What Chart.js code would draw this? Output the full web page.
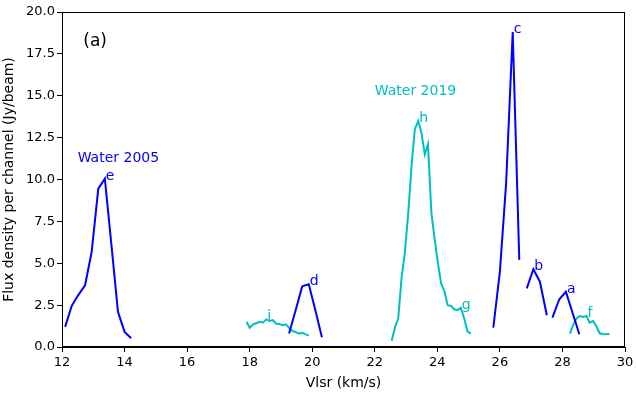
<!DOCTYPE html>
<html>
<head>
<meta charset="utf-8">
<script src="https://cdn.jsdelivr.net/npm/chart.js@4/dist/chart.umd.min.js"></script>
<style>
  html, body { margin: 0; padding: 0; background: #fff; }
  #wrap { width: 638px; height: 398px; }
</style>
</head>
<body>
<div id="wrap"><canvas id="fluxChart" width="638" height="398"></canvas></div>
<script>
// Water 2005 (blue) components
const eVel  = [12.10, 12.31, 12.52, 12.74, 12.95, 13.16, 13.37, 13.58, 13.79, 14.00, 14.21];
const eFlux = [1.2, 2.45, 3.1, 3.7, 5.7, 9.45, 10.05, 6.1, 2.1, 0.9, 0.52];
const dVel  = [19.26, 19.47, 19.68, 19.89, 20.10, 20.31];
const dFlux = [0.8, 2.2, 3.62, 3.75, 2.2, 0.58];
const cVel  = [25.79, 26.00, 26.20, 26.41, 26.62];
const cFlux = [1.15, 4.5, 9.8, 18.8, 5.2];
const bVel  = [26.86, 27.07, 27.28, 27.50];
const bFlux = [3.5, 4.64, 3.9, 1.9];
const aVel  = [27.68, 27.90, 28.11, 28.33, 28.54];
const aFlux = [1.75, 2.85, 3.3, 2.0, 0.76];

// Water 2019 (cyan) components
const iVel  = [17.90, 18.00, 18.11, 18.21, 18.32, 18.42, 18.53, 18.63, 18.74, 18.84,
               18.95, 19.05, 19.16, 19.26, 19.37, 19.47, 19.58, 19.68, 19.79, 19.89];
const iFlux = [1.51, 1.15, 1.35, 1.42, 1.5, 1.45, 1.65, 1.55, 1.6, 1.4,
               1.38, 1.3, 1.35, 1.15, 0.95, 0.9, 0.8, 0.85, 0.75, 0.68];
const hVel  = [22.54, 22.65, 22.75, 22.86, 22.96, 23.07, 23.18, 23.28, 23.39, 23.49,
               23.60, 23.70, 23.81, 23.91, 24.02, 24.12, 24.23, 24.33, 24.44, 24.54,
               24.65, 24.75, 24.86, 24.96, 25.07];
const hFlux = [0.38, 1.2, 1.7, 4.2, 5.6, 8.0, 10.9, 13.0, 13.5, 12.8,
               11.5, 12.1, 8.0, 6.5, 5.0, 3.8, 3.3, 2.5, 2.45, 2.25,
               2.2, 2.35, 1.7, 0.95, 0.8];
const fVel  = [28.24, 28.35, 28.45, 28.56, 28.66, 28.77, 28.87, 28.98, 29.08, 29.19,
               29.29, 29.40, 29.50];
const fFlux = [0.8, 1.35, 1.7, 1.85, 1.8, 1.85, 1.45, 1.55, 1.25, 0.82,
               0.78, 0.76, 0.78];

// peak letters, placed at the peak channel of each component
const peakNames = ['e', 'd', 'c', 'b', 'a', 'i', 'h', 'g', 'f'];
const peakVel   = [13.37, 19.89, 26.41, 27.07, 28.11, 18.53, 23.39, 24.75, 28.77];
const peakFlux  = [10.05, 3.75, 18.8, 4.64, 3.3, 1.65, 13.5, 2.35, 1.85];

const xTicks = [12, 14, 16, 18, 20, 22, 24, 26, 28, 30];
const yTicks = [0, 2.5, 5, 7.5, 10, 12.5, 15, 17.5, 20];

const BLUE = '#0000ff';
const CYAN = '#00bfbf';

function pts(vel, flux) {
    return vel.map((v, i) => ({ x: v, y: flux[i] }));
}

function line(vel, flux, color) {
    return {
        data: pts(vel, flux),
        borderColor: color,
        backgroundColor: color,
        borderWidth: 2,
        pointRadius: 0,
        tension: 0,
        fill: false
    };
}

Chart.defaults.font.family = "'DejaVu Sans', sans-serif";
Chart.defaults.color = '#000';

// full box around the plot and the text notes
const frameAndNotes = {
    id: 'frameAndNotes',
    afterDatasetsDraw(chart) {
        const { ctx, chartArea, scales } = chart;
        const xs = scales.x, ys = scales.y;
        ctx.save();
        ctx.strokeStyle = '#000';
        ctx.lineWidth = 1;
        ctx.strokeRect(chartArea.left + 0.5, chartArea.top + 0.5,
            chartArea.right - chartArea.left - 1, chartArea.bottom - chartArea.top - 1);

        ctx.textAlign = 'left';
        ctx.textBaseline = 'alphabetic';
        ctx.font = "14px 'DejaVu Sans'";
        peakNames.forEach((name, i) => {
            ctx.fillStyle = ['i', 'h', 'g', 'f'].includes(name) ? CYAN : BLUE;
            ctx.fillText(name, xs.getPixelForValue(peakVel[i]) + 1, ys.getPixelForValue(peakFlux[i]) + 1);
        });

        ctx.fillStyle = BLUE;
        ctx.fillText('Water 2005', xs.getPixelForValue(12.5), ys.getPixelForValue(11.05));
        ctx.fillStyle = CYAN;
        ctx.fillText('Water 2019', xs.getPixelForValue(22.0), ys.getPixelForValue(15.05));

        ctx.fillStyle = '#000';
        ctx.font = "17px 'DejaVu Sans'";
        ctx.fillText('(a)', xs.getPixelForValue(12.68), ys.getPixelForValue(17.95));
        ctx.restore();
    }
};

const ctx = document.getElementById('fluxChart').getContext('2d');
new Chart(ctx, {
    type: 'line',
    data: {
        datasets: [
            line(eVel, eFlux, BLUE),
            line(dVel, dFlux, BLUE),
            line(cVel, cFlux, BLUE),
            line(bVel, bFlux, BLUE),
            line(aVel, aFlux, BLUE),
            line(iVel, iFlux, CYAN),
            line(hVel, hFlux, CYAN),
            line(fVel, fFlux, CYAN)
        ]
    },
    options: {
        responsive: false,
        animation: false,
        layout: { padding: { top: 12, right: 13, left: 0, bottom: 0 } },
        plugins: {
            legend: { display: false },
            tooltip: { enabled: false }
        },
        scales: {
            x: {
                type: 'linear',
                min: 12,
                max: 30,
                afterFit: s => { s.height = 51; },
                afterBuildTicks: s => { s.ticks = xTicks.map(v => ({ value: v })); },
                ticks: { font: { size: 13 }, padding: 3, maxRotation: 0 },
                grid: { drawOnChartArea: false, drawTicks: true, tickLength: 5, color: '#000' },
                border: { display: true, color: '#000' },
                title: { display: true, text: 'Vlsr (km/s)', font: { size: 14 }, padding: { top: 0, bottom: 6 } }
            },
            y: {
                min: 0,
                max: 20,
                afterFit: s => { s.width = 62; },
                afterBuildTicks: s => { s.ticks = yTicks.map(v => ({ value: v })); },
                ticks: { font: { size: 13 }, padding: 2, callback: v => Number(v).toFixed(1) },
                grid: { drawOnChartArea: false, drawTicks: true, tickLength: 5, color: '#000' },
                border: { display: true, color: '#000' },
                title: { display: true, text: 'Flux density per channel (Jy/beam)', font: { size: 14 }, padding: { top: 1, bottom: 0 } }
            }
        }
    },
    plugins: [frameAndNotes]
});
</script>
</body>
</html>
